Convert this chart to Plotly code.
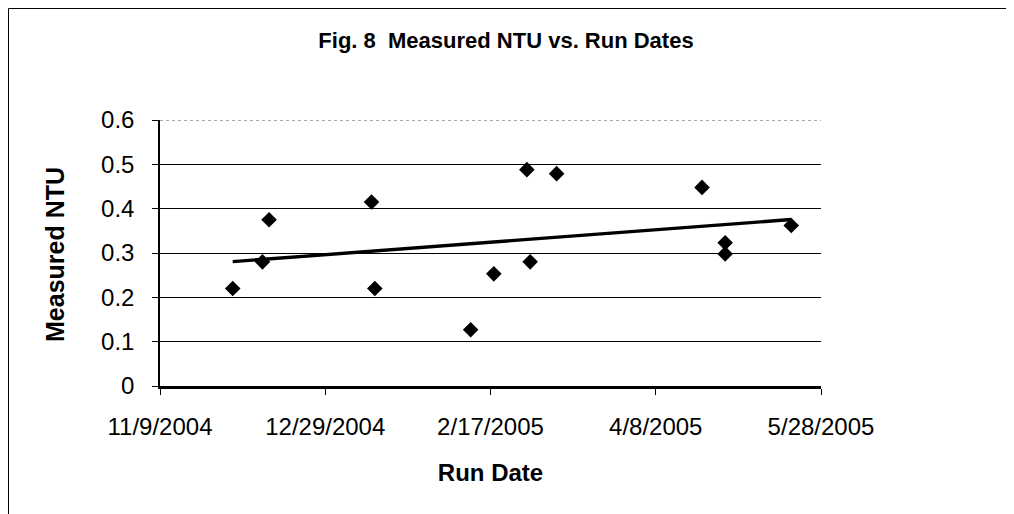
import numpy as np
import pandas as pd
import plotly.graph_objects as go

# ---- data ----
run_dates = ["2004-12-01", "2004-12-10", "2004-12-12", "2005-01-12", "2005-01-13",
             "2005-02-11", "2005-02-18", "2005-02-28", "2005-03-01", "2005-03-09",
             "2005-04-22", "2005-04-29", "2005-04-29", "2005-05-19"]
ntu_values = [0.22, 0.28, 0.375, 0.415, 0.22,
              0.127, 0.253, 0.488, 0.28, 0.479,
              0.448, 0.323, 0.298, 0.362]
x_tick_dates = ["2004-11-09", "2004-12-29", "2005-02-17", "2005-04-08", "2005-05-28"]
x_tick_labels = ["11/9/2004", "12/29/2004", "2/17/2005", "4/8/2005", "5/28/2005"]
y_tick_values = [0, 0.1, 0.2, 0.3, 0.4, 0.5, 0.6]
y_tick_labels = ["0", "0.1", "0.2", "0.3", "0.4", "0.5", "0.6"]

# linear trendline (as in Excel) over the data range
d = pd.to_datetime(run_dates)
days = (d - d[0]).days.values.astype(float)
slope, intercept = np.polyfit(days, np.array(ntu_values), 1)
trend_x = [d.min(), d.max()]
trend_y = [intercept + slope * days.min(), intercept + slope * days.max()]

FONT = "Liberation Sans, Arial, sans-serif"

W, H = 1014, 514
L, R, T, B = 152, 201, 112, 136
PW, PH = W - L - R, H - T - B

fig = go.Figure()
fig.add_trace(go.Scatter(
    x=trend_x, y=trend_y, mode="lines",
    line=dict(color="black", width=3.4), showlegend=False, hoverinfo="skip"))
fig.add_trace(go.Scatter(
    x=run_dates, y=ntu_values, mode="markers",
    marker=dict(symbol="diamond", size=12, color="black"),
    showlegend=False))

fig.update_layout(
    width=W, height=H,
    paper_bgcolor="white", plot_bgcolor="white",
    margin=dict(l=L, r=R, t=T, b=B, autoexpand=False),
    font=dict(family=FONT, color="black"),
    title=dict(text="<b>Fig. 8  Measured NTU vs. Run Dates</b>",
               xref="container", x=498 / W, y=1 - 32 / H, yanchor="middle",
               xanchor="center", font=dict(size=22, family=FONT)),
    xaxis=dict(
        type="date",
        range=[x_tick_dates[0], x_tick_dates[-1]],
        tickmode="array", tickvals=x_tick_dates, ticktext=x_tick_labels,
        ticks="outside", ticklen=6, tickcolor="black", tickwidth=1,
        showline=True, linecolor="black", linewidth=2.5,
        showgrid=False, zeroline=False,
        tickfont=dict(size=24, family=FONT),
        ticklabelstandoff=11,
        title=dict(text="<b>Run Date</b>", font=dict(size=24, family=FONT), standoff=26),
    ),
    yaxis=dict(
        range=[0, 0.6],
        tickmode="array", tickvals=y_tick_values, ticktext=y_tick_labels,
        ticks="outside", ticklen=6, tickcolor="black", tickwidth=1,
        showline=True, linecolor="black", linewidth=1.5,
        showgrid=True, gridcolor="black", gridwidth=1,
        zeroline=False,
        tickfont=dict(size=24, family=FONT),
        ticklabelstandoff=13,
    ),
    annotations=[
        dict(text="<b>Measured NTU</b>", textangle=-90,
             xref="paper", yref="paper",
             x=(47 - L) / PW, y=(T + PH - 247) / PH,
             xanchor="center", yanchor="middle", showarrow=False,
             font=dict(size=25, family=FONT, color="black")),
    ],
    shapes=[
        # faint top gridline at the axis maximum
        dict(type="line", xref="paper", yref="y",
             x0=0, x1=1, y0=y_tick_values[-1], y1=y_tick_values[-1],
             line=dict(color="#555555", width=1, dash="dot")),
        dict(type="line", xref="paper", yref="paper",
             x0=(0.5 - L) / PW, x1=(W - L) / PW,
             y0=(T + PH - 0.5) / PH, y1=(T + PH - 0.5) / PH,
             line=dict(color="black", width=1)),
        dict(type="line", xref="paper", yref="paper",
             x0=(0.5 - L) / PW, x1=(0.5 - L) / PW,
             y0=(T + PH - 0.5) / PH, y1=(T + PH - H) / PH,
             line=dict(color="black", width=1)),
    ],
)

fig.write_html("out.html")
